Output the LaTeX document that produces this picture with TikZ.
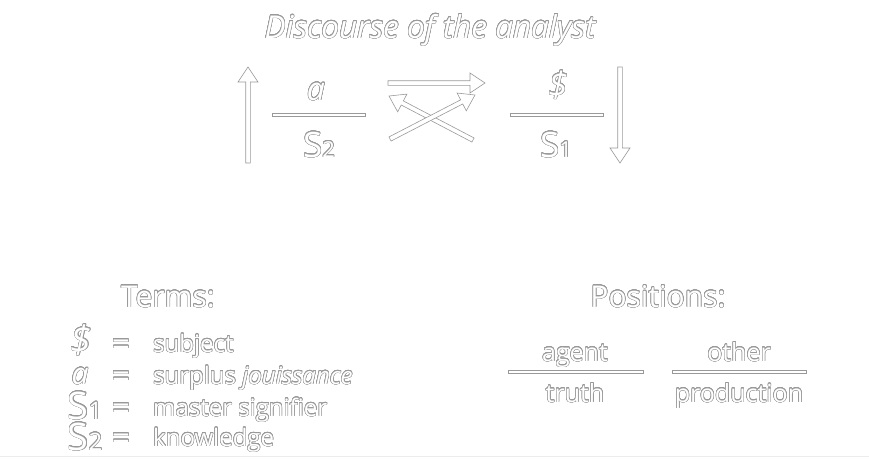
\documentclass[tikz,border=0pt]{standalone}
\usepackage{fontspec}
\setmainfont{Open Sans}
\usepackage{contour}
\usetikzlibrary{positioning}
\usetikzlibrary{calc}
\definecolor{ink}{gray}{0.6}
\contourlength{0.5pt}
\contournumber{24}
\newcommand{\olt}[1]{\contour{ink}{#1}}
\newcommand{\sigS}[1]{{\fontsize{35}{35}\selectfont S}{\fontsize{22}{22}\selectfont #1}}
\newcommand{\bigS}[1]{{\fontsize{38}{38}\selectfont S}{\fontsize{24}{24}\selectfont #1}}
\tikzset{lb/.style={inner sep=0pt,text=white,font=\fontsize{24}{24}\selectfont}}
\tikzset{hd/.style={inner sep=0pt,text=white,font=\fontsize{30}{30}\selectfont}}
\tikzset{outl/.style={draw=ink,fill=white,line width=0.6pt,line join=miter}}
\tikzset{fracbar/.style={outl,to path={
  ($(\tikztostart)!1.3pt!90:(\tikztotarget)$) -- ($(\tikztotarget)!1.3pt!-90:(\tikztostart)$) --
  ($(\tikztotarget)!1.3pt!90:(\tikztostart)$) -- ($(\tikztostart)!1.3pt!-90:(\tikztotarget)$) -- cycle}}}
\tikzset{hollow/.style={outl,to path={
  ($(\tikztostart)!2.3pt!90:(\tikztotarget)$) --
  ($($(\tikztotarget)!15pt!(\tikztostart)$)!2.3pt!90:(\tikztotarget)$) --
  ($($(\tikztotarget)!15pt!(\tikztostart)$)!10pt!90:(\tikztotarget)$) --
  (\tikztotarget) --
  ($($(\tikztotarget)!15pt!(\tikztostart)$)!10pt!-90:(\tikztotarget)$) --
  ($($(\tikztotarget)!15pt!(\tikztostart)$)!2.3pt!-90:(\tikztotarget)$) --
  ($(\tikztostart)!2.3pt!-90:(\tikztotarget)$) -- cycle}}}

\begin{document}
\begin{tikzpicture}[x=1pt,y=-1pt]
\useasboundingbox (0,0) rectangle (869,458);
\node[hd,font=\fontsize{31.5}{31.5}\selectfont\itshape,anchor=base] (title) at (430,38) {\olt{Discourse of the analyst}};

% left fraction
\node[lb,font=\fontsize{32}{32}\selectfont\itshape,anchor=base] (a) at (316,100) {\olt{a}};
\node[lb,anchor=base] (S2) at (319,157) {\olt{\sigS{2}}};
\coordinate (la) at (272,115);
\coordinate (lb) at (365,115);
\draw[fracbar] (la) to (lb);

% right fraction
\node[lb,font=\fontsize{35}{35}\selectfont\itshape,anchor=base] (bS) at (558,97) {\olt{\$}};
\node[lb,anchor=base] (S1) at (556,157) {\olt{\sigS{1}}};
\coordinate (ra) at (510,115);
\coordinate (rb) at (603,115);
\draw[fracbar] (ra) to (rb);

% arrows
\coordinate (up0) at (248,163);
\coordinate (up1) at (248,67);
\coordinate (dn0) at (620,67);
\coordinate (dn1) at (620,163);
\coordinate (t0) at (388,83);
\coordinate (t1) at (485,83);
\coordinate (c0) at (473,140);
\coordinate (c1) at (389,96);
\coordinate (d0) at (390,139);
\coordinate (d1) at (475,95);
\draw[hollow] (up0) to (up1);
\draw[hollow] (dn0) to (dn1);
\draw[hollow] (t0) to (t1);
\draw[hollow] (c0) to (c1);
\draw[hollow] (d0) to (d1);

% terms
\node[hd,anchor=base] (terms) at (168,307) {\olt{Terms:}};
\node[lb,font=\fontsize{38}{38}\selectfont\itshape,anchor=base] (t1s) at (81,353) {\olt{\$}};
\node[lb,font=\fontsize{30}{30}\selectfont\itshape,anchor=base] (t2s) at (80,384) {\olt{a}};
\node[lb,anchor=base] (t3s) at (85,419) {\olt{\bigS{1}}};
\node[lb,anchor=base] (t4s) at (85,450) {\olt{\bigS{2}}};
\foreach \y/\n in {355/1,387/2,419/3,449/4}
  \node[lb,font=\fontsize{32}{32}\selectfont,anchor=base] (eq\n) at (121,\y) {\olt{=}};
\node[lb,anchor=base west] (t1d) at (153,352) {\olt{subject}};
\node[lb,anchor=base west] (t2d) at (153,384) {\olt{surplus \textit{jouissance}}};
\node[lb,anchor=base west] (t3d) at (153,416) {\olt{master signifier}};
\node[lb,anchor=base west] (t4d) at (153,446) {\olt{knowledge}};

% positions
\node[hd,anchor=base] (pos) at (658,307) {\olt{Positions:}};
\node[lb,font=\fontsize{25}{25}\selectfont,anchor=base] (agent) at (575,361) {\olt{agent}};
\node[lb,font=\fontsize{25}{25}\selectfont,anchor=base] (truth) at (575,402) {\olt{truth}};
\node[lb,font=\fontsize{25}{25}\selectfont,anchor=base] (other) at (739,361) {\olt{other}};
\node[lb,font=\fontsize{25}{25}\selectfont,anchor=base] (prod) at (739,402) {\olt{production}};
\coordinate (pa) at (508,372);
\coordinate (pb) at (643,372);
\coordinate (pc) at (672,372);
\coordinate (pd) at (806,372);
\draw[fracbar] (pa) to (pb);
\draw[fracbar] (pc) to (pd);

% bottom edge
\coordinate (e0) at (0,456);
\coordinate (e1) at (869,456);
\draw[gray!15,line width=0.8pt] (e0) -- (e1);
\end{tikzpicture}
\end{document}
